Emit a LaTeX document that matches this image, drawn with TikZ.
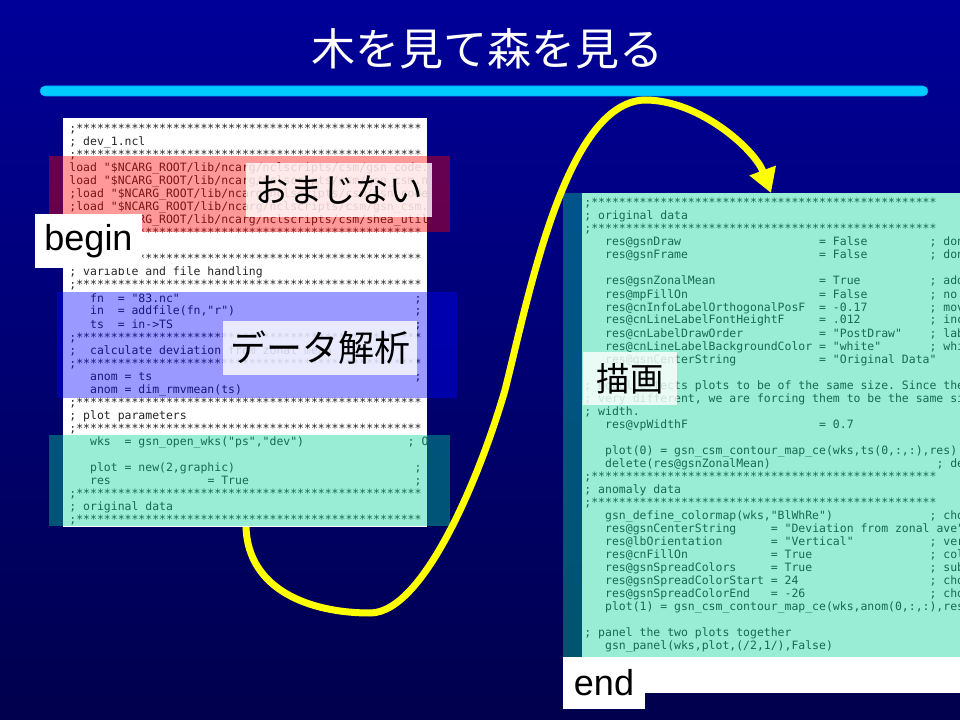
\documentclass[tikz,border=0pt]{standalone}
\usepackage{fontspec}
\setmainfont{Liberation Sans}
\newfontfamily\jpfont{Noto Sans CJK JP}
\newfontfamily\codefont{DejaVu Sans Mono}
\usetikzlibrary{arrows.meta}

\definecolor{bgtop}{RGB}{0,0,153}
\definecolor{bgbottom}{RGB}{0,0,77}
\definecolor{barcyan}{RGB}{0,204,255}
\definecolor{maskteal}{RGB}{0,210,150}
\definecolor{flowyellow}{RGB}{255,255,0}

\newlength\pxu \setlength\pxu{0.75pt}
% one column of the listing font (0.602em of 8.6pt)
\newlength\colw \setlength\colw{5.1776pt}
\newcommand\codesize{\codefont\fontsize{8.6pt}{9.75pt}\selectfont}
\newcommand\tcol[2]{\rlap{\hspace*{#1\colw}#2}}
\newcommand\stars{;**************************************************}
\frenchspacing

\begin{document}
\begin{tikzpicture}[
    x=\pxu, y=-\pxu,
    code/.style={anchor=base west, inner sep=0pt, font=\codesize, text=black!85},
    mask/.style={fill opacity=0.4},
    tag/.style={fill=white, fill opacity=0.8, text opacity=1, inner sep=0pt,
                minimum height=54\pxu, font=\jpfont\fontsize{25pt}{30pt}\selectfont},
    word/.style={fill=white, inner sep=0pt, minimum height=54\pxu,
                 font=\fontsize{27pt}{32pt}\selectfont},
    flow/.style={draw=flowyellow, line width=5.25pt,
                 -{Triangle[length=18pt, width=20pt]}}
  ]
  \useasboundingbox (0,0) rectangle (960,720);
  \clip (0,0) rectangle (960,720);

  % Slide
  \shade[top color=bgtop, bottom color=bgbottom] (0,0) rectangle (960,720);
  \node[font=\jpfont\fontsize{33pt}{40pt}\selectfont, text=white, inner sep=0pt]
    (title) at (487,49) {木を見て森を見る};
  \fill[barcyan, draw=barcyan!80!blue, rounded corners=3.75pt] (40,86) rectangle (928,96);

  % Left listing
  \fill[white] (63,118) rectangle (427,527);
  \begin{scope}
    \clip (63,118) rectangle (427,527);
    \foreach \txt [count=\i from 0] in {
      {\tcol{0}{\stars}},
      {\tcol{0}{; dev\_1.ncl}},
      {\tcol{0}{\stars}},
      {\tcol{0}{load "\$NCARG\_ROOT/lib/ncarg/nclscripts/csm/gsn\_code.ncl"}},
      {\tcol{0}{load "\$NCARG\_ROOT/lib/ncarg/nclscripts/csm/gsn\_csm.ncl"}},
      {\tcol{0}{;load "\$NCARG\_ROOT/lib/ncarg/nclscripts/csm/gsn\_code.ncl"}},
      {\tcol{0}{;load "\$NCARG\_ROOT/lib/ncarg/nclscripts/csm/gsn\_csm.ncl"}},
      {\tcol{0}{load "\$NCARG\_ROOT/lib/ncarg/nclscripts/csm/shea\_util.ncl"}},
      {\tcol{0}{\stars}},
      {},
      {\tcol{0}{\stars}},
      {\tcol{0}{; variable and file handling}},
      {\tcol{0}{\stars}},
      {\tcol{3}{fn}\tcol{7}{= "83.nc"}\tcol{50}{;}},
      {\tcol{3}{in}\tcol{7}{= addfile(fn,"r")}\tcol{50}{;}},
      {\tcol{3}{ts}\tcol{7}{= in->TS}\tcol{50}{;}},
      {\tcol{0}{\stars}},
      {\tcol{0}{;}\tcol{3}{calculate deviation from zonal mean}},
      {\tcol{0}{\stars}},
      {\tcol{3}{anom = ts}\tcol{50}{;}},
      {\tcol{3}{anom = dim\_rmvmean(ts)}},
      {\tcol{0}{\stars}},
      {\tcol{0}{; plot parameters}},
      {\tcol{0}{\stars}},
      {\tcol{3}{wks}\tcol{8}{= gsn\_open\_wks("ps","dev")}\tcol{49}{; Open a workstation}},
      {},
      {\tcol{3}{plot = new(2,graphic)}\tcol{50}{;}},
      {\tcol{3}{res}\tcol{20}{= True}\tcol{50}{;}},
      {\tcol{0}{\stars}},
      {\tcol{0}{; original data}},
      {\tcol{0}{\stars}}}
      \node[code] (lline\i) at (68.5, 133+13*\i) {\txt};
  \end{scope}

  \fill[red, mask] (49,156) rectangle (450,232);
  \fill[blue, mask] (57,292) rectangle (457,398);
  \fill[maskteal, mask] (49,435) rectangle (450,526);

  \node[tag, minimum width=186\pxu] (omajinai) at (339,190) {おまじない};
  \node[tag, minimum width=194\pxu, font=\jpfont\fontsize{27pt}{32pt}\selectfont]
    (analysis) at (320,348) {データ解析};
  \node[word, minimum width=107\pxu] (begintag) at (88.5,241) {begin};

  % Right listing
  \fill[white] (582,193) rectangle (960,657);
  \begin{scope}
    \clip (582,193) rectangle (960,693);
    \foreach \txt [count=\i from 0] in {
      {\tcol{0}{\stars}},
      {\tcol{0}{; original data}},
      {\tcol{0}{\stars}},
      {\tcol{3}{res@gsnDraw}\tcol{34}{= False}\tcol{50}{; don't draw}},
      {\tcol{3}{res@gsnFrame}\tcol{34}{= False}\tcol{50}{; don't advance frame}},
      {},
      {\tcol{3}{res@gsnZonalMean}\tcol{34}{= True}\tcol{50}{; add zonal plot}},
      {\tcol{3}{res@mpFillOn}\tcol{34}{= False}\tcol{50}{; no map fill}},
      {\tcol{3}{res@cnInfoLabelOrthogonalPosF}\tcol{34}{= -0.17}\tcol{50}{; move info label}},
      {\tcol{3}{res@cnLineLabelFontHeightF}\tcol{34}{= .012}\tcol{50}{; increase font}},
      {\tcol{3}{res@cnLabelDrawOrder}\tcol{34}{= "PostDraw"}\tcol{50}{; label on top}},
      {\tcol{3}{res@cnLineLabelBackgroundColor}\tcol{34}{= "white"}\tcol{50}{; white bkgrnd}},
      {\tcol{3}{res@gsnCenterString}\tcol{34}{= "Original Data"}},
      {},
      {\tcol{0}{; model effects plots to be of the same size. Since the plots are}},
      {\tcol{0}{; very different, we are forcing them to be the same size in}},
      {\tcol{0}{; width.}},
      {\tcol{3}{res@vpWidthF}\tcol{34}{= 0.7}},
      {},
      {\tcol{3}{plot(0) = gsn\_csm\_contour\_map\_ce(wks,ts(0,:,:),res)}},
      {\tcol{3}{delete(res@gsnZonalMean)}\tcol{51}{; delete zonal}},
      {\tcol{0}{\stars}},
      {\tcol{0}{; anomaly data}},
      {\tcol{0}{\stars}},
      {\tcol{3}{gsn\_define\_colormap(wks,"BlWhRe")}\tcol{50}{; choose colormap}},
      {\tcol{3}{res@gsnCenterString}\tcol{27}{= "Deviation from zonal ave"}},
      {\tcol{3}{res@lbOrientation}\tcol{27}{= "Vertical"}\tcol{50}{; vertical bar}},
      {\tcol{3}{res@cnFillOn}\tcol{27}{= True}\tcol{50}{; color on}},
      {\tcol{3}{res@gsnSpreadColors}\tcol{27}{= True}\tcol{50}{; subset}},
      {\tcol{3}{res@gsnSpreadColorStart}\tcol{27}{= 24}\tcol{50}{; choose start}},
      {\tcol{3}{res@gsnSpreadColorEnd}\tcol{27}{= -26}\tcol{50}{; choose end}},
      {\tcol{3}{plot(1) = gsn\_csm\_contour\_map\_ce(wks,anom(0,:,:),res)}},
      {},
      {\tcol{0}{; panel the two plots together}},
      {\tcol{3}{gsn\_panel(wks,plot,(/2,1/),False)}}}
      \node[code] (rline\i) at (583.5, 207+13*\i) {\txt};
  \end{scope}

  \fill[maskteal, mask] (563,193) rectangle (960,657);
  \fill[white] (563,657) rectangle (960,693);
  \node[word, minimum width=82\pxu, minimum height=52\pxu] (endtag) at (604,683) {end};
  \node[tag, minimum width=94\pxu, minimum height=53\pxu] (drawing) at (630,378.5) {描画};

  % Flow from left to right
  \coordinate (flowstart) at (246,527);
  \coordinate (flowend) at (771,193);
  \draw[flow] (flowstart) .. controls (248,590) and (310,613) .. (370,613)
    .. controls (425,613) and (482,470) .. (505,390)
    .. controls (528,300) and (565,102) .. (645,100)
    .. controls (700,100) and (755,150) .. (flowend);
\end{tikzpicture}
\end{document}
